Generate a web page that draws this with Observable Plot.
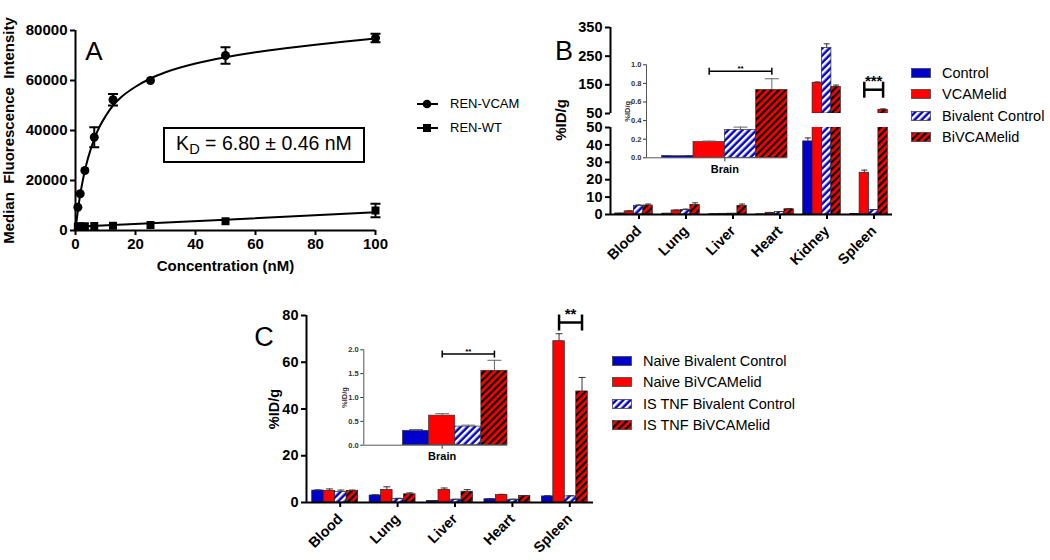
<!DOCTYPE html>
<html><head><meta charset="utf-8">
<script src="https://cdn.jsdelivr.net/npm/d3@7"></script>
<script src="https://cdn.jsdelivr.net/npm/@observablehq/plot@0.6"></script>
<style>
html,body{margin:0;padding:0;background:#fff;}
#root{position:relative;width:1050px;height:560px;overflow:hidden;background:#fff;font-family:"Liberation Sans",Arial,sans-serif;color:#000;}
.abs{position:absolute;}
.leg{position:absolute;font-size:14.5px;white-space:nowrap;line-height:1;}
.rot{position:absolute;transform:translate(-50%,-50%) rotate(-90deg);white-space:nowrap;font-weight:bold;}
.letter{position:absolute;transform:translate(-50%,-50%);font-size:27px;}
</style></head>
<body>
<svg width="0" height="0" style="position:absolute;left:0;top:0"><defs>
<pattern id="hatchBlue" patternUnits="userSpaceOnUse" width="5" height="5" patternTransform="rotate(45)">
<rect width="5" height="5" fill="#0000cc"/><rect width="2.5" height="5" fill="#fff"/></pattern>
<pattern id="hatchRed" patternUnits="userSpaceOnUse" width="5" height="5" patternTransform="rotate(45)">
<rect width="5" height="5" fill="#ff0000"/><rect width="2.2" height="5" fill="#000"/></pattern>
</defs></svg>
<div id="root"></div>
<script>
// ---------- Panel A data ----------
const concVCAM = [0.78, 1.56, 3.125, 6.25, 12.5, 25, 50, 100];
const mfiVCAM  = [9300, 14700, 24000, 37300, 52300, 60000, 70000, 77000];
const errVCAM  = [0, 0, 0, 4000, 2300, 0, 3300, 1700];
const concWT   = [0.78, 1.56, 3.125, 6.25, 12.5, 25, 50, 100];
const mfiWT    = [1600, 1700, 1700, 1800, 1900, 2200, 3700, 8000];
const errWT    = [0, 0, 0, 0, 0, 0, 0, 2700];
const fitVCAMx = [0, 0.5, 1, 1.5, 2, 3, 4, 5, 6.25, 8, 10, 12.5, 15, 20, 25, 30, 40, 50, 60, 70, 80, 90, 100];
const fitVCAMy = [0, 5200, 9800, 13800, 17300, 23300, 28200, 32200, 36700, 41500, 45700, 50000, 53100, 57500, 60800, 63300, 66800, 69300, 71300, 72900, 74300, 75600, 76800];
const fitWTx   = [0, 50, 100];
const fitWTy   = [1500, 4300, 7300];
const legendA  = ["REN-VCAM", "REN-WT"];
const ticksAx  = [0, 20, 40, 60, 80, 100];
const ticksAy  = [0, 20000, 40000, 60000, 80000];

// ---------- Panel B data ----------
const organsB = ["Blood", "Lung", "Liver", "Heart", "Kidney", "Spleen"];
const seriesB = ["Control", "VCAMelid", "Bivalent Control", "BiVCAMelid"];
const bControl    = [0.6, 0.5, 0.2, 0.1, 42, 0.3];
const bControlErr = [0.1, 0.1, 0.05, 0.05, 2, 0.1];
const bVCAMelid    = [1.8, 2.3, 0.4, 1.0, 157, 24];
const bVCAMelidErr = [0.3, 0.3, 0.1, 0.1, 3, 1.5];
const bBivalent    = [5.0, 2.6, 0.5, 1.5, 278, 2.5];
const bBivalentErr = [0.5, 0.5, 0.1, 0.2, 15, 0.3];
const bBiVCAM      = [5.2, 5.5, 5.0, 3.0, 143, 63];
const bBiVCAMErr   = [0.8, 1.2, 1.0, 0.4, 6, 3];
const ticksBlow = [0, 10, 20, 30, 40, 50];
const ticksBup  = [50, 150, 250, 350];
const brainB    = [0.02, 0.17, 0.30, 0.73];
const brainBErr = [0.005, 0.01, 0.03, 0.12];
const insetCat  = ["Brain"];
const sigB      = [{organ: 5, from: 1, to: 3, y: 133, label: "***"}];
const sigBInset = [{from: 1, to: 3, y: 0.93, label: "**"}];

// ---------- Panel C data ----------
const organsC = ["Blood", "Lung", "Liver", "Heart", "Spleen"];
const seriesC = ["Naive Bivalent Control", "Naive BiVCAMelid", "IS TNF Bivalent Control", "IS TNF BiVCAMelid"];
const cNaiveBiv    = [5.1, 3.0, 0.7, 1.4, 2.6];
const cNaiveBivErr = [0.3, 0.3, 0.1, 0.2, 0.3];
const cNaiveBiV    = [5.0, 5.4, 5.4, 3.2, 69];
const cNaiveBiVErr = [0.8, 1.3, 0.8, 0.3, 3.2];
const cTNFBiv      = [4.5, 1.5, 1.2, 1.2, 2.6];
const cTNFBivErr   = [0.8, 0.3, 0.2, 0.2, 0.3];
const cTNFBiV      = [5.0, 3.5, 4.6, 2.8, 47.5];
const cTNFBiVErr   = [0.3, 0.6, 0.9, 0.2, 6];
const ticksC  = [0, 20, 40, 60, 80];
const brainC    = [0.30, 0.62, 0.39, 1.56];
const brainCErr = [0.03, 0.04, 0.03, 0.22];
const sigC      = [{organ: 4, from: 1, to: 3, y: 77, label: "**"}];
const sigCInset = [{from: 1, to: 3, y: 1.91, label: "**"}];

// ---------- helpers ----------
const fills = ["#0000cc", "#ff0000", "url(#hatchBlue)", "url(#hatchRed)"];
const root = document.getElementById("root");
function place(el, left, top) { el.style.position = "absolute"; el.style.left = left + "px"; el.style.top = top + "px"; root.appendChild(el); return el; }
function html(cls, txt, left, top, extra) { const d = document.createElement("div"); d.className = cls; d.innerHTML = txt; d.style.left = left + "px"; d.style.top = top + "px"; if (extra) Object.assign(d.style, extra); root.appendChild(d); return d; }
const capSym = {draw(ctx, size) { const w = Math.sqrt(size / Math.PI); ctx.moveTo(-w, 0); ctx.lineTo(w, 0); }};
const vSym = {draw(ctx, size) { const w = Math.sqrt(size / Math.PI); ctx.moveTo(0, -w); ctx.lineTo(0, w); }};
const baseStyle = {fontFamily: "'Liberation Sans', Arial, sans-serif", fontWeight: "bold", fontSize: "14px", color: "#000", background: "transparent", overflow: "visible"};
const BW = 0.2; // bar width in category units
const pos = (oi, si) => oi + (si - 1.5) * BW;
function table(vals, errs, n) { const rows = []; for (let oi = 0; oi < n; oi++) vals.forEach((arr, si) => rows.push({oi, si, v: arr[oi], e: errs[si][oi]})); return rows; }

// ---------- Panel A ----------
const ptsVCAM = concVCAM.map((x, i) => ({x, y: mfiVCAM[i], e: errVCAM[i]}));
const ptsWT = concWT.map((x, i) => ({x, y: mfiWT[i], e: errWT[i]}));
const fitVCAM = fitVCAMx.map((x, i) => ({x, y: fitVCAMy[i]}));
const fitWT = fitWTx.map((x, i) => ({x, y: fitWTy[i]}));
const errA = [...ptsVCAM, ...ptsWT].filter(d => d.e > 0);
const chartA = Plot.plot({
  width: 400, height: 285, marginLeft: 75, marginRight: 25, marginTop: 30, marginBottom: 55,
  style: {...baseStyle, fontSize: "14.5px"},
  x: {domain: [0, 100]}, y: {domain: [0, 80000]},
  marks: [
    Plot.axisX(ticksAx, {tickSize: 5, tickPadding: 3, strokeWidth: 2, label: "Concentration (nM)", labelAnchor: "center", labelArrow: "none", labelOffset: 40, fontSize: 15}),
    Plot.axisY(ticksAy, {tickSize: 5, tickPadding: 3, strokeWidth: 2, tickFormat: d3.format("d"), label: "Median  Fluorescence  Intensity", labelAnchor: "center", labelArrow: "none", labelOffset: 72, fontSize: 15}),
    Plot.ruleX([0], {strokeWidth: 2}),
    Plot.ruleY([0], {strokeWidth: 2}),
    Plot.line(fitVCAM, {x: "x", y: "y", curve: "monotone-x", strokeWidth: 2}),
    Plot.line(fitWT, {x: "x", y: "y", strokeWidth: 2}),
    Plot.ruleX(errA, {x: "x", y1: d => d.y - d.e, y2: d => d.y + d.e, strokeWidth: 2}),
    Plot.dot(errA, {x: "x", y: d => d.y + d.e, symbol: capSym, r: 5, stroke: "#000", strokeWidth: 2, fill: "none"}),
    Plot.dot(errA, {x: "x", y: d => d.y - d.e, symbol: capSym, r: 5, stroke: "#000", strokeWidth: 2, fill: "none"}),
    Plot.dot(ptsVCAM, {x: "x", y: "y", r: 4.5, fill: "#000", stroke: null, symbol: "circle"}),
    Plot.dot(ptsWT, {x: "x", y: "y", r: 4.5, fill: "#000", stroke: null, symbol: "square"})
  ]
});
place(chartA, 0, 0);
html("letter", "A", 94, 51, {fontSize: "26px"});
html("abs", "<span>K<sub style='font-size:0.75em;vertical-align:-0.3em'>D</sub> = 6.80 ± 0.46 nM</span>", 163, 127,
  {width: "202px", height: "36px", boxSizing: "border-box", border: "2.5px solid #000", display: "flex", alignItems: "center", justifyContent: "center", fontSize: "19.5px", whiteSpace: "nowrap"});
// legend A
legendA.forEach((name, i) => {
  const y = 104 + i * 23.5;
  const sym = i === 0 ? "<circle cx='10' cy='6' r='4.3' fill='#000'/>" : "<rect x='6' y='2' width='8' height='8' fill='#000'/>";
  html("leg", `<svg width="22" height="12" style="position:absolute;left:0;top:0"><line x1="0" x2="21" y1="6" y2="6" stroke="#000" stroke-width="2"/>${sym}</svg><span style="position:absolute;left:33px;top:-1px;font-size:13px">${name}</span>`, 417, y - 6);
});

// ---------- Panel B ----------
const rowsB = table([bControl, bVCAMelid, bBivalent, bBiVCAM], [bControlErr, bVCAMelidErr, bBivalentErr, bBiVCAMErr], organsB.length);
const barB = (extra) => Plot.rect(rowsB.filter(extra.filter), {x1: d => pos(d.oi, d.si) - BW / 2, x2: d => pos(d.oi, d.si) + BW / 2, y1: extra.y1, y2: "v", fill: d => fills[d.si], stroke: "#222", strokeWidth: 0.7, clip: true});
const chartBup = Plot.plot({
  width: 360, height: 116, marginLeft: 70, marginRight: 8, marginTop: 27, marginBottom: 3,
  style: baseStyle, color: {type: "identity"},
  x: {domain: [-0.5, organsB.length - 0.5], axis: null}, y: {domain: [50, 350]},
  marks: [
    Plot.axisY(ticksBup, {tickSize: 5, tickPadding: 3, strokeWidth: 2, label: null, fontSize: 14.5}),
    Plot.ruleX([-0.5], {strokeWidth: 2}),
    barB({filter: d => d.v > 50, y1: 50}),
    Plot.ruleX(rowsB.filter(d => d.v > 50), {x: d => pos(d.oi, d.si), y1: "v", y2: d => d.v + d.e, stroke: "#333", strokeWidth: 1}),
    Plot.dot(rowsB.filter(d => d.v > 50), {x: d => pos(d.oi, d.si), y: d => d.v + d.e, symbol: capSym, r: 3, stroke: "#333", strokeWidth: 1}),
    Plot.link(sigB, {x1: d => pos(d.organ, d.from), x2: d => pos(d.organ, d.to), y1: "y", y2: "y", strokeWidth: 2.5}),
    Plot.dot(sigB.flatMap(d => [{x: pos(d.organ, d.from), y: d.y}, {x: pos(d.organ, d.to), y: d.y}]), {x: "x", y: "y", symbol: vSym, r: 8, stroke: "#000", strokeWidth: 2.5}),
    Plot.text(sigB, {x: d => (pos(d.organ, d.from) + pos(d.organ, d.to)) / 2, y: "y", text: "label", dy: -9, fontSize: 15})
  ]
});
place(chartBup, 540, 0);
const chartBlow = Plot.plot({
  width: 360, height: 160, marginLeft: 70, marginRight: 8, marginTop: 7, marginBottom: 66,
  style: baseStyle, color: {type: "identity"},
  x: {domain: [-0.5, organsB.length - 0.5]}, y: {domain: [0, 50]},
  marks: [
    Plot.axisY(ticksBlow, {tickSize: 5, tickPadding: 3, strokeWidth: 2, label: null, fontSize: 14.5}),
    Plot.axisX(d3.range(organsB.length), {tickFormat: i => organsB[i], tickRotate: -45, tickSize: 5, tickPadding: 9, dx: 5, strokeWidth: 2, label: null, fontSize: 14.5}),
    barB({filter: d => true, y1: 0}),
    Plot.ruleX(rowsB.filter(d => d.v < 50), {x: d => pos(d.oi, d.si), y1: "v", y2: d => d.v + d.e, stroke: "#333", strokeWidth: 1}),
    Plot.dot(rowsB.filter(d => d.v < 50), {x: d => pos(d.oi, d.si), y: d => d.v + d.e, symbol: capSym, r: 3, stroke: "#333", strokeWidth: 1}),
    Plot.ruleX([-0.5], {strokeWidth: 2}),
    Plot.ruleY([0], {strokeWidth: 2})
  ]
});
place(chartBlow, 540, 120);
html("letter", "B", 564, 51, {fontSize: "27px"});
html("rot", "%ID/g", 560, 120, {fontSize: "15px"});

function inset(vals, errs, sig, xmax, offset, tickAt, opts) {
  const rows = vals.map((v, si) => ({si, v, e: errs[si]}));
  const c = si => si + offset;
  return Plot.plot({
    ...opts,
    style: {...baseStyle, fontSize: "7.5px", color: "#333"}, color: {type: "identity"},
    x: {domain: [0, xmax]}, y: {domain: opts.ydom},
    marks: [
      Plot.axisY(opts.yticks, {tickSize: 3, tickPadding: 2, strokeWidth: 1, tickFormat: d3.format(".1f"), label: "%ID/g", labelAnchor: "center", labelArrow: "none", labelOffset: opts.labelOffset, fontSize: 7.5}),
      Plot.axisX([tickAt], {tickFormat: () => insetCat[0], tickSize: 4, tickPadding: 3, strokeWidth: 1, label: null, fontSize: 11, fill: "#000"}),
      Plot.rect(rows, {x1: d => c(d.si) - 0.5, x2: d => c(d.si) + 0.5, y1: 0, y2: "v", fill: d => fills[d.si], stroke: "#333", strokeWidth: 0.7}),
      Plot.ruleX(rows, {x: d => c(d.si), y1: "v", y2: d => d.v + d.e, stroke: "#666", strokeWidth: 1}),
      Plot.dot(rows, {x: d => c(d.si), y: d => d.v + d.e, symbol: capSym, r: 7, stroke: "#666", strokeWidth: 1}),
      Plot.ruleX([0], {stroke: "#555", strokeWidth: 1}),
      Plot.ruleY([0], {stroke: "#555", strokeWidth: 1}),
      Plot.link(sig, {x1: d => c(d.from), x2: d => c(d.to), y1: "y", y2: "y", stroke: "#000", strokeWidth: 1.5}),
      Plot.dot(sig.flatMap(d => [{x: c(d.from), y: d.y}, {x: c(d.to), y: d.y}]), {x: "x", y: "y", symbol: vSym, r: 3.5, stroke: "#000", strokeWidth: 1.5}),
      Plot.text(sig, {x: d => (c(d.from) + c(d.to)) / 2, y: "y", text: "label", dy: -3, fontSize: 8, fill: "#000"})
    ]
  });
}
const insetB = inset(brainB, brainBErr, sigBInset, 4.5, 1, 2.5,
  {width: 195, height: 125, marginLeft: 46, marginRight: 8, marginTop: 9.3, marginBottom: 22.7, ydom: [0, 1], yticks: [0, 0.2, 0.4, 0.6, 0.8, 1.0], labelOffset: 22});
place(insetB, 600, 55);

// legend B
function legend(names, left, top0, step) {
  names.forEach((name, i) => {
    const y = top0 + i * step;
    html("leg", `<svg width="20" height="10" style="position:absolute;left:0;top:0"><rect x="0.5" y="0.5" width="19" height="9" fill="${fills[i]}" stroke="#444" stroke-width="0.8"/></svg><span style="position:absolute;left:31px;top:-2px">${name}</span>`, left, y - 5);
  });
}
legend(seriesB, 911, 72.7, 21.5);

// ---------- Panel C ----------
const rowsC = table([cNaiveBiv, cNaiveBiV, cTNFBiv, cTNFBiV], [cNaiveBivErr, cNaiveBiVErr, cTNFBivErr, cTNFBiVErr], organsC.length);
const chartC = Plot.plot({
  width: 370, height: 258, marginLeft: 76, marginRight: 7, marginTop: 15, marginBottom: 56,
  style: baseStyle, color: {type: "identity"},
  x: {domain: [-0.5, organsC.length - 0.5]}, y: {domain: [0, 80]},
  marks: [
    Plot.axisY(ticksC, {tickSize: 5, tickPadding: 3, strokeWidth: 2, label: "%ID/g", labelAnchor: "center", labelArrow: "none", labelOffset: 38, fontSize: 14.5}),
    Plot.axisX(d3.range(organsC.length), {tickFormat: i => organsC[i], tickRotate: -45, tickSize: 5, tickPadding: 9, dx: 5, strokeWidth: 2, label: null, fontSize: 14.5}),
    Plot.rect(rowsC, {x1: d => pos(d.oi, d.si) - BW / 2, x2: d => pos(d.oi, d.si) + BW / 2, y1: 0, y2: "v", fill: d => fills[d.si], stroke: "#222", strokeWidth: 0.7}),
    Plot.ruleX(rowsC, {x: d => pos(d.oi, d.si), y1: "v", y2: d => d.v + d.e, stroke: "#333", strokeWidth: 1}),
    Plot.dot(rowsC, {x: d => pos(d.oi, d.si), y: d => d.v + d.e, symbol: capSym, r: 3.5, stroke: "#333", strokeWidth: 1}),
    Plot.ruleX([-0.5], {strokeWidth: 2}),
    Plot.ruleY([0], {strokeWidth: 2}),
    Plot.link(sigC, {x1: d => pos(d.organ, d.from), x2: d => pos(d.organ, d.to), y1: "y", y2: "y", strokeWidth: 2.5}),
    Plot.dot(sigC.flatMap(d => [{x: pos(d.organ, d.from), y: d.y}, {x: pos(d.organ, d.to), y: d.y}]), {x: "x", y: "y", symbol: vSym, r: 8, stroke: "#000", strokeWidth: 2.5}),
    Plot.text(sigC, {x: d => (pos(d.organ, d.from) + pos(d.organ, d.to)) / 2, y: "y", text: "label", dy: -8, fontSize: 15})
  ]
});
place(chartC, 230, 300);
html("letter", "C", 264, 337, {fontSize: "27px"});
const insetC = inset(brainC, brainCErr, sigCInset, 5.5, 2, 3,
  {width: 185, height: 125, marginLeft: 33.3, marginRight: 8, marginTop: 9.3, marginBottom: 20.3, ydom: [0, 2], yticks: [0, 0.5, 1.0, 1.5, 2.0], labelOffset: 22});
place(insetC, 330, 340);
legend(seriesC, 612, 360.7, 21.4);
</script>
</body></html>
